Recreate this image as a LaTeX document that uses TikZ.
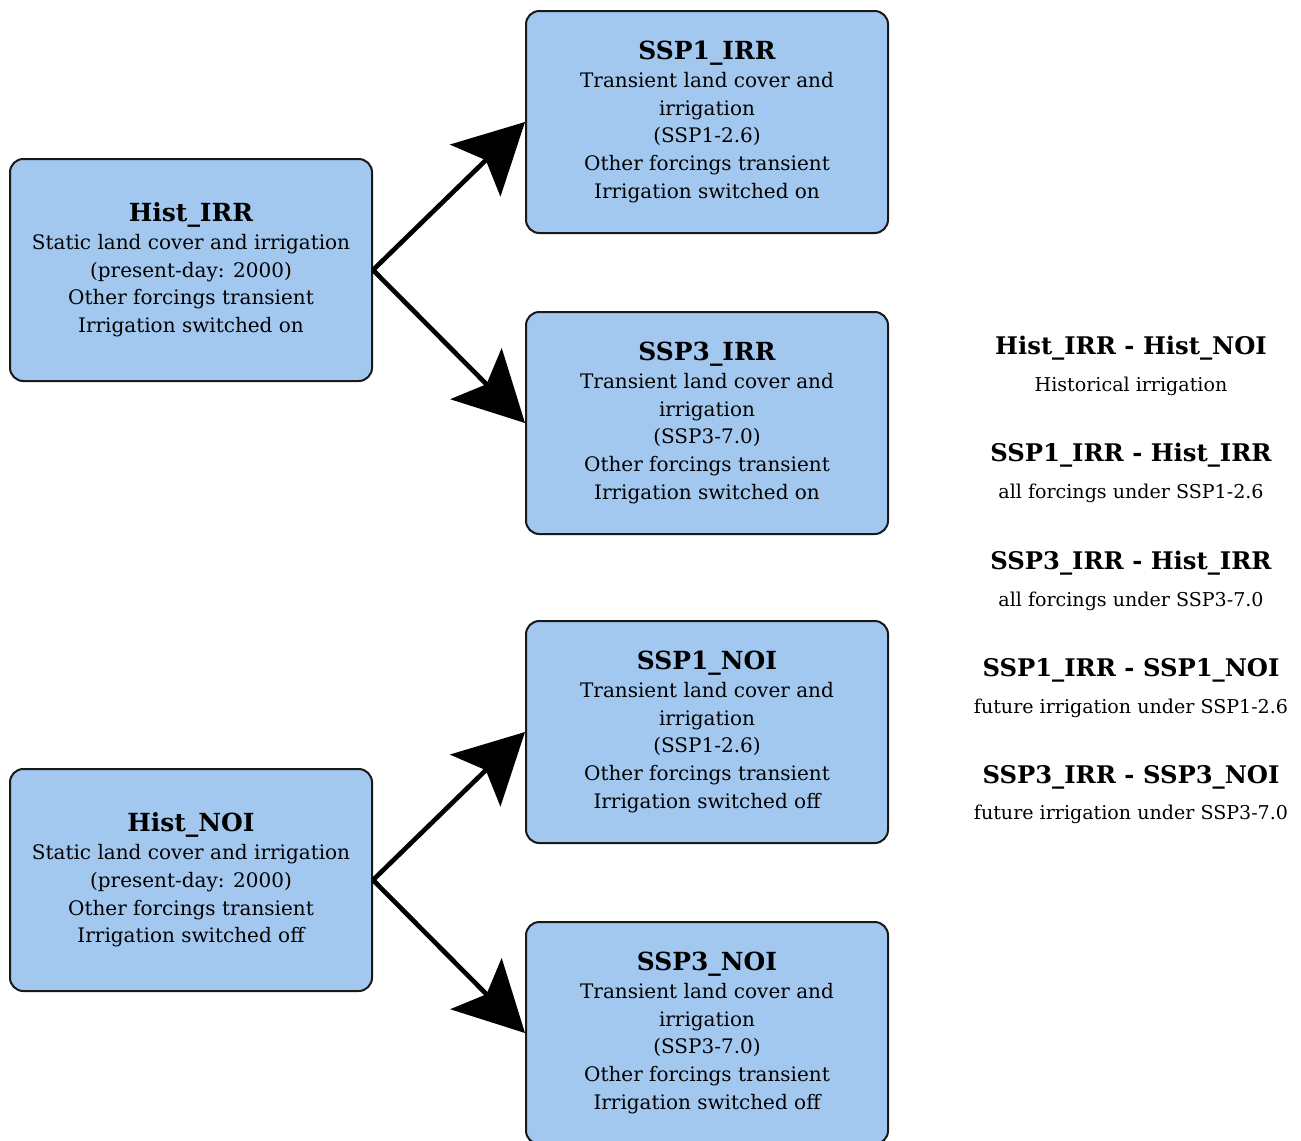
\documentclass[tikz,border=0pt]{standalone}
\usepackage{fontspec}
\setmainfont{DejaVu Serif}
\usetikzlibrary{arrows.meta}
\definecolor{boxblue}{RGB}{163,200,240}
\definecolor{boxline}{RGB}{25,25,25}
\tikzset{
  expbox/.style={draw=boxline, line width=1.5pt, fill=boxblue, rounded corners=10pt,
    minimum width=271.5pt, minimum height=166.5pt, align=center, inner sep=0pt,
    font=\fontsize{15}{20.8}\selectfont},
  conn/.style={line width=3.5pt, -{Stealth[length=52pt, width=54pt, inset=11pt]}},
  difftitle/.style={font=\fontsize{18.2}{20}\selectfont\bfseries, inner sep=0pt},
  diffsub/.style={font=\fontsize{14.3}{16}\selectfont, inner sep=0pt},
}
\newcommand{\bt}[1]{{\fontsize{18.7}{22}\selectfont\bfseries #1}\\[0pt]}
\begin{document}
\begin{tikzpicture}[x=0.75pt, y=-0.75pt]
\useasboundingbox (0,0) rectangle (1301,1140);
\clip (0,0) rectangle (1301,1140);
\node[expbox] (hirr) at (191,270) {\bt{Hist\_IRR}Static land cover and irrigation\\(present-day: 2000)\\Other forcings transient\\Irrigation switched on};
\node[expbox] (hnoi) at (191,880) {\bt{Hist\_NOI}Static land cover and irrigation\\(present-day: 2000)\\Other forcings transient\\Irrigation switched off};
\node[expbox] (s1irr) at (707,122) {\bt{SSP1\_IRR}Transient land cover and\\irrigation\\(SSP1-2.6)\\Other forcings transient\\Irrigation switched on};
\node[expbox] (s3irr) at (707,423) {\bt{SSP3\_IRR}Transient land cover and\\irrigation\\(SSP3-7.0)\\Other forcings transient\\Irrigation switched on};
\node[expbox] (s1noi) at (707,732) {\bt{SSP1\_NOI}Transient land cover and\\irrigation\\(SSP1-2.6)\\Other forcings transient\\Irrigation switched off};
\node[expbox] (s3noi) at (707,1033) {\bt{SSP3\_NOI}Transient land cover and\\irrigation\\(SSP3-7.0)\\Other forcings transient\\Irrigation switched off};
\draw[conn] (hirr.east) -- (s1irr.west);
\draw[conn] (hirr.east) -- (s3irr.west);
\draw[conn] (hnoi.east) -- (s1noi.west);
\draw[conn] (hnoi.east) -- (s3noi.west);
\node[difftitle] (d1) at (1131,348) {Hist\_IRR - Hist\_NOI};
\node[diffsub] (d1s) at (1131,386) {Historical irrigation};
\node[difftitle] (d2) at (1131,455) {SSP1\_IRR - Hist\_IRR};
\node[diffsub] (d2s) at (1131,493) {all forcings under SSP1-2.6};
\node[difftitle] (d3) at (1131,563) {SSP3\_IRR - Hist\_IRR};
\node[diffsub] (d3s) at (1131,601) {all forcings under SSP3-7.0};
\node[difftitle] (d4) at (1131,670) {SSP1\_IRR - SSP1\_NOI};
\node[diffsub] (d4s) at (1131,708) {future irrigation under SSP1-2.6};
\node[difftitle] (d5) at (1131,777) {SSP3\_IRR - SSP3\_NOI};
\node[diffsub] (d5s) at (1131,814) {future irrigation under SSP3-7.0};
\end{tikzpicture}
\end{document}
